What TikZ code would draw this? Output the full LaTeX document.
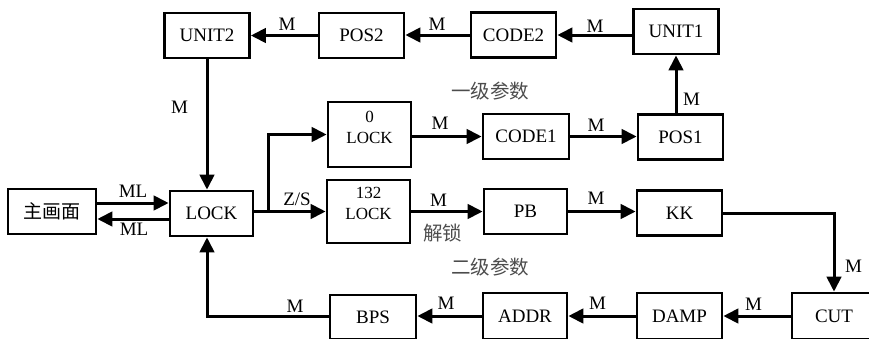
\documentclass[tikz,border=0pt]{standalone}
\usepackage{fontspec}
\setmainfont{Liberation Serif}
\newfontfamily\cjk{Noto Sans CJK SC}
\usetikzlibrary{arrows.meta}
\begin{document}
\begin{tikzpicture}[x=1pt,y=-1pt,
  box/.style={draw,line width=2.8pt,inner sep=0pt,minimum width=85pt,minimum height=45pt,font=\fontsize{19}{21}\selectfont},
  arr/.style={line width=3pt,-{Triangle[length=15pt,width=14.5pt]}},
  lbl/.style={inner sep=0pt,font=\fontsize{19}{21}\selectfont},
  small/.style={inner sep=0pt,align=center,font=\fontsize{17}{21}\selectfont},
  zh/.style={inner sep=0pt,text=black!70,font=\cjk\fontsize{19.5}{21}\selectfont}]
\useasboundingbox (0,0) rectangle (869,338);
\clip (0,0) rectangle (869,338);
% boxes
\node[box] (unit2) at (207,35.5) {UNIT2};
\node[box] (pos2) at (361.5,35.5) {POS2};
\node[box] (code2) at (513.5,35) {CODE2};
\node[box] (unit1) at (676,31.5) {UNIT1};
\node[box,minimum width=83pt,minimum height=65pt] (lock0) at (369.5,134.5) {};
\node[small] (lock0t) at (369.5,127) {0\\LOCK};
\node[box,minimum width=86pt] (code1) at (526,136.5) {CODE1};
\node[box] (pos1) at (680.5,137) {POS1};
\node[box,minimum width=88pt] (main) at (52,211.5) {\cjk 主画面};
\node[box,minimum width=83pt] (lock) at (211.5,213.5) {LOCK};
\node[box,minimum width=83pt,minimum height=63pt] (lock132) at (368.5,211.5) {};
\node[small] (lock132t) at (368.5,203) {132\\LOCK};
\node[box,minimum width=83pt] (pb) at (525.5,211.5) {PB};
\node[box] (kk) at (679.5,213) {KK};
\node[box,minimum width=86pt,minimum height=44pt] (bps) at (373,317) {BPS};
\node[box,minimum width=84pt,minimum height=46pt] (addr) at (525,316) {ADDR};
\node[box,minimum height=46pt] (damp) at (679.5,316) {DAMP};
\node[box,minimum width=84pt,minimum height=46pt] (cut) at (834,316) {CUT};
% helper coordinates
\coordinate (ml1) at (0,203);
\coordinate (ml2) at (0,219);
\coordinate (br) at (268,211.5);
% connectors
\draw[arr] (pos2.west) -- (unit2.east);
\draw[arr] (code2.west) -- (code2.west -| pos2.east);
\draw[arr] (unit1.west |- code2) -- (code2.east);
\draw[arr] (unit1.south |- pos1.north) -- (unit1.south);
\draw[arr] (unit2.south) -- (unit2.south |- lock.north);
\draw[arr] (main.east |- ml1) -- (lock.west |- ml1);
\draw[arr] (lock.west |- ml2) -- (main.east |- ml2);
\draw[arr] (lock.east |- lock132) -- (lock132.west);
\draw[arr] (br) -- (br |- lock0) -- (lock0.west);
\draw[arr] (lock0.east |- code1) -- (code1.west);
\draw[arr] (code1.east) -- (code1.east -| pos1.west);
\draw[arr] (lock132.east) -- (pb.west);
\draw[arr] (pb.east) -- (pb.east -| kk.west);
\draw[arr] (kk.east) -- (kk.east -| cut.north) -- (cut.north);
\draw[arr] (cut.west) -- (damp.east);
\draw[arr] (damp.west) -- (addr.east);
\draw[arr] (addr.west) -- (addr.west -| bps.east);
\draw[arr] (bps.west |- addr) -- (unit2.south |- addr) -- (unit2.south |- lock.south);
% labels
\node[lbl] (m1) at (287,24.5) {M};
\node[lbl] (m2) at (437,24) {M};
\node[lbl] (m3) at (595,26) {M};
\node[lbl] (m4) at (179.5,107) {M};
\node[zh] (t1) at (490,91) {一级参数};
\node[lbl] (m5) at (440,123.5) {M};
\node[lbl] (m6) at (596,125.5) {M};
\node[lbl] (m7) at (691.5,99) {M};
\node[lbl] (ml1t) at (133,191) {ML};
\node[lbl] (ml2t) at (134,229.5) {ML};
\node[lbl] (zs) at (297,199.5) {Z/S};
\node[lbl] (m8) at (438.5,200.5) {M};
\node[zh] (t3) at (442.5,233) {解锁};
\node[lbl] (m9) at (596,198.5) {M};
\node[lbl] (m10) at (853.5,266) {M};
\node[zh] (t2) at (490,267) {二级参数};
\node[lbl] (m11) at (753.5,304.5) {M};
\node[lbl] (m12) at (597.5,303) {M};
\node[lbl] (m13) at (446,303) {M};
\node[lbl] (m14) at (295,306.5) {M};
\end{tikzpicture}
\end{document}
